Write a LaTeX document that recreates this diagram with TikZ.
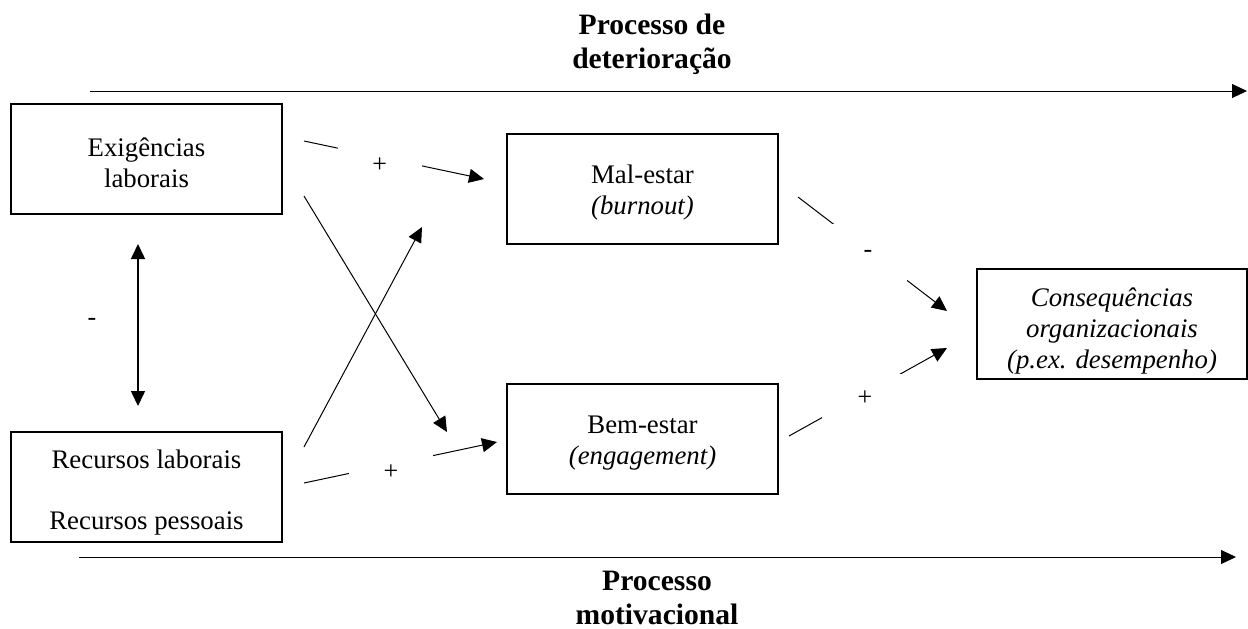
\documentclass[tikz,border=0pt]{standalone}
\usepackage{fontspec}
\setmainfont{Liberation Serif}
\usetikzlibrary{arrows.meta,positioning,calc}
\begin{document}
\begin{tikzpicture}[x=0.5pt,y=-0.5pt,
	caixa/.style={draw,line width=1pt,minimum width=135.5pt,minimum height=55pt,inner sep=0pt,align=center,font=\fontsize{13.4}{15.5}\selectfont},
	titulo/.style={align=center,font=\fontsize{14.8}{17}\selectfont\bfseries},
	seta/.style={line width=0.5pt,-{Triangle[length=7.5pt,width=7pt]}},
	sinal/.style={fill=white,inner sep=0pt,font=\fontsize{13}{14}\selectfont}]
	\useasboundingbox (0,0) rectangle (1248,628);
	% caixas
	\node[caixa] (exig) at (146.5,159) {\rule{0pt}{13pt}Exigências\\laborais};
	\node[caixa] (rec) at (146.5,486.5) {\rule{0pt}{15pt}Recursos laborais\\[15pt]Recursos pessoais};
	\node[caixa] (mal) at (642.5,188.5) {\rule{0pt}{13pt}Mal-estar\\\textit{(burnout)}};
	\node[caixa] (bem) at (642.5,438.5) {\rule{0pt}{13pt}Bem-estar\\\textit{(engagement)}};
	\node[caixa,minimum width=135pt,font=\fontsize{13.4}{15.6}\selectfont\itshape] (cons) at (1112,323.5) {\rule{0pt}{17pt}Consequências\\organizacionais\\(p.ex. desempenho)};
	% processos
	\node[titulo] (deter) at (652,44) {Processo de\\deterioração};
	\node[titulo] (motiv) at (657,598) {Processo\\motivacional};
	\coordinate (d0) at (90,91); \coordinate (d1) at (1247,91);
	\coordinate (m0) at (79,557); \coordinate (m1) at (1236,557);
	\draw[seta] (d0)--(d1);
	\draw[seta] (m0)--(m1);
	% setas entre caixas
	\draw[line width=0.8pt,{Triangle[length=7.5pt,width=7pt]}-{Triangle[length=7.5pt,width=7pt]}] ($(exig.south)+(-8.5,29)$)--($(rec.north)+(-8.5,-24.5)$);
	\node[sinal] (neg1) at (92,322) {-};
	\draw[seta] ($(exig.east)+(21,-18)$)--node[sinal,pos=0.42,minimum width=42pt,minimum height=20pt,yshift=-4pt] (pos1) {+} ($(mal.west)+(-22,-9.5)$);
	\draw[seta] ($(exig.east)+(21,37)$)--($(bem.west)+(-59,-6.5)$);
	\draw[seta] ($(rec.east)+(21,-39.5)$)--($(mal.west)+(-84,38.5)$);
	\draw[seta] ($(rec.east)+(21,-3.5)$)--node[sinal,pos=0.45,minimum width=42pt,minimum height=20pt,yshift=-4pt] (pos2) {+} ($(bem.west)+(-9,3.5)$);
	\draw[seta] ($(mal.east)+(19,8.5)$)--node[sinal,pos=0.47,minimum width=38.5pt,minimum height=30pt,yshift=-1.5pt] (neg2) {-} ($(cons.west)+(-29,-12.5)$);
	\draw[seta] ($(bem.east)+(10,-2.5)$)--node[sinal,pos=0.48,minimum width=42.5pt,minimum height=24pt,yshift=-2pt] (pos3) {+} ($(cons.west)+(-29,24.5)$);
\end{tikzpicture}
\end{document}
